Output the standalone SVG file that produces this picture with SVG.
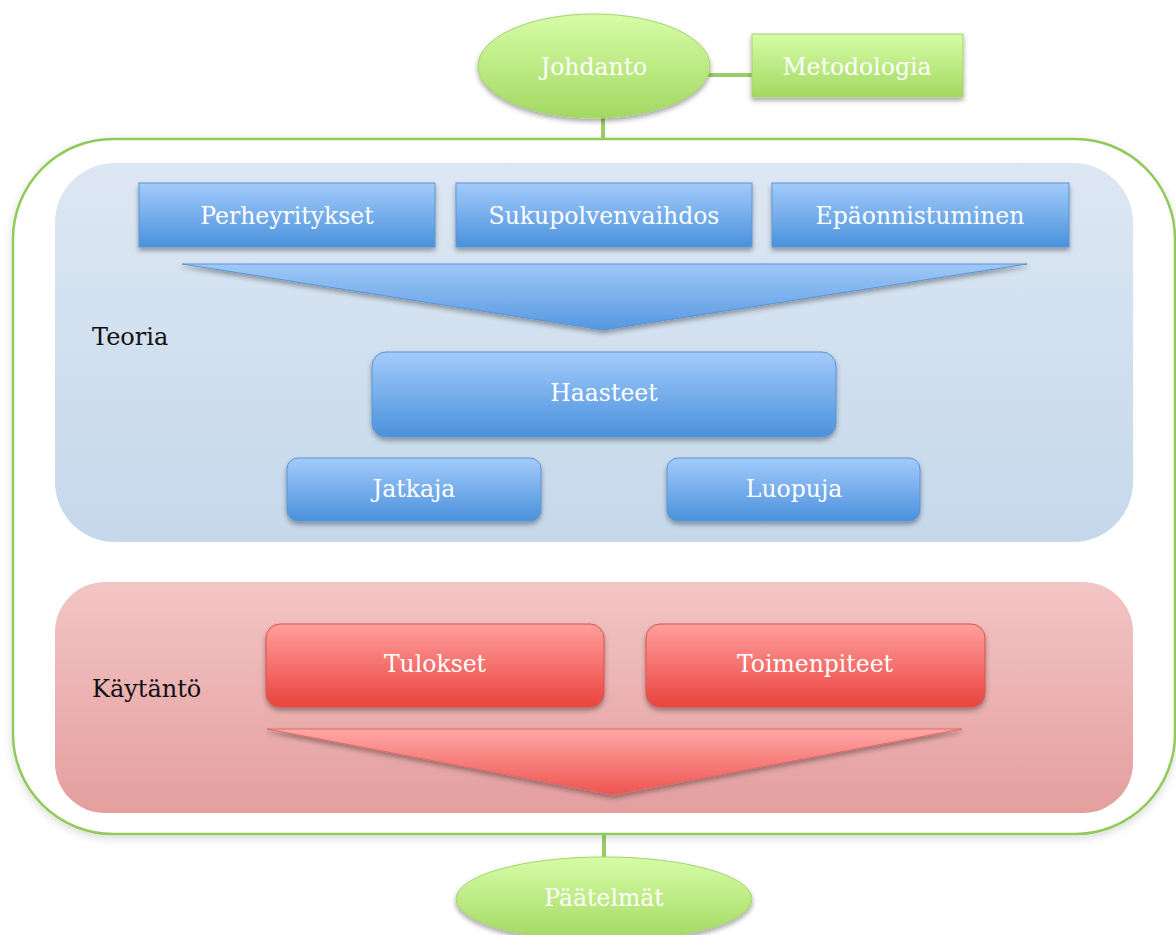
<svg xmlns="http://www.w3.org/2000/svg" width="1176" height="935" viewBox="0 0 1176 935">
<defs>
<linearGradient id="gGreen" x1="0" y1="0" x2="0" y2="1"><stop offset="0" stop-color="#d6fda6"/><stop offset="1" stop-color="#a3d862"/></linearGradient>
<linearGradient id="gBlue" x1="0" y1="0" x2="0" y2="1"><stop offset="0" stop-color="#a3cbfb"/><stop offset="1" stop-color="#4a91dc"/></linearGradient>
<linearGradient id="gBlueTri" x1="0" y1="0" x2="0" y2="1"><stop offset="0" stop-color="#a0c8f8"/><stop offset="1" stop-color="#5598e0"/></linearGradient>
<linearGradient id="gRed" x1="0" y1="0" x2="0" y2="1"><stop offset="0" stop-color="#ff9f9d"/><stop offset="1" stop-color="#ea433e"/></linearGradient>
<linearGradient id="gRedTri" x1="0" y1="0" x2="0" y2="1"><stop offset="0" stop-color="#ffa8a6"/><stop offset="1" stop-color="#ef5450"/></linearGradient>
<linearGradient id="gPanelBlue" x1="0" y1="0" x2="0" y2="1"><stop offset="0" stop-color="#dde7f3"/><stop offset="1" stop-color="#c5d8eb"/></linearGradient>
<linearGradient id="gPanelRed" x1="0" y1="0" x2="0" y2="1"><stop offset="0" stop-color="#f3c5c5"/><stop offset="1" stop-color="#e49e9e"/></linearGradient>
<filter id="sh" x="-10%" y="-20%" width="120%" height="150%"><feDropShadow dx="0" dy="3" stdDeviation="2.5" flood-color="#000" flood-opacity="0.35"/></filter>
<filter id="shSoft" x="-5%" y="-5%" width="110%" height="115%"><feDropShadow dx="0" dy="3" stdDeviation="4" flood-color="#000" flood-opacity="0.15"/></filter>
</defs>
<style>
.lbl{font-family:"DejaVu Serif","Liberation Serif",serif;font-size:23.5px;fill:#ffffff;text-anchor:middle;dominant-baseline:central}
.side{font-family:"DejaVu Serif","Liberation Serif",serif;font-size:24px;fill:#111111;dominant-baseline:central}
.conn{stroke:#9ccc65;stroke-width:4;fill:none}
.blue{fill:url(#gBlue);stroke:#5a95d6;stroke-width:1}
.red{fill:url(#gRed);stroke:#d9534f;stroke-width:1}
.green{fill:url(#gGreen);stroke:#a6d46c;stroke-width:1}
</style>

<g id="connectors">
<line class="conn" x1="603" y1="118" x2="603" y2="140"/>
<line class="conn" x1="708" y1="75" x2="752" y2="75"/>
<line class="conn" x1="604" y1="834" x2="604" y2="858"/>
</g>

<g id="frame">
<rect x="13" y="139" width="1162" height="695" rx="100" ry="100" fill="#ffffff" stroke="#91c95a" stroke-width="2.5" filter="url(#shSoft)"/>
</g>

<g id="teoria-panel">
<rect x="55" y="163" width="1078" height="379" rx="60" ry="60" fill="url(#gPanelBlue)"/>
<text class="side" x="92" y="337">Teoria</text>
</g>

<g id="kaytanto-panel">
<rect x="55" y="582" width="1078" height="231" rx="50" ry="50" fill="url(#gPanelRed)"/>
<text class="side" x="92" y="689">Käytäntö</text>
</g>

<g id="johdanto">
<ellipse class="green" cx="594" cy="66" rx="116" ry="52" filter="url(#sh)"/>
<text class="lbl" x="594" y="67">Johdanto</text>
</g>

<g id="metodologia">
<rect class="green" x="752" y="34" width="211" height="63" filter="url(#sh)"/>
<text class="lbl" x="857" y="67">Metodologia</text>
</g>

<g id="perheyritykset">
<rect class="blue" x="139" y="183" width="296" height="64" filter="url(#sh)"/>
<text class="lbl" x="287" y="216">Perheyritykset</text>
</g>

<g id="sukupolvenvaihdos">
<rect class="blue" x="456" y="183" width="296" height="64" filter="url(#sh)"/>
<text class="lbl" x="604" y="216">Sukupolvenvaihdos</text>
</g>

<g id="epaonnistuminen">
<rect class="blue" x="772" y="183" width="297" height="64" filter="url(#sh)"/>
<text class="lbl" x="920" y="216">Epäonnistuminen</text>
</g>

<g id="teoria-arrow">
<polygon points="182,264 1027,264 603,330" fill="url(#gBlueTri)" stroke="#5a95d6" stroke-width="1" filter="url(#sh)"/>
</g>

<g id="haasteet">
<rect class="blue" x="372" y="352" width="464" height="85" rx="14" ry="14" filter="url(#sh)"/>
<text class="lbl" x="604" y="393">Haasteet</text>
</g>

<g id="jatkaja">
<rect class="blue" x="287" y="458" width="254" height="63" rx="11" ry="11" filter="url(#sh)"/>
<text class="lbl" x="414" y="489">Jatkaja</text>
</g>

<g id="luopuja">
<rect class="blue" x="667" y="458" width="253" height="63" rx="11" ry="11" filter="url(#sh)"/>
<text class="lbl" x="794" y="489">Luopuja</text>
</g>

<g id="tulokset">
<rect class="red" x="266" y="624" width="338" height="83" rx="14" ry="14" filter="url(#sh)"/>
<text class="lbl" x="435" y="664">Tulokset</text>
</g>

<g id="toimenpiteet">
<rect class="red" x="646" y="624" width="339" height="83" rx="14" ry="14" filter="url(#sh)"/>
<text class="lbl" x="815" y="664">Toimenpiteet</text>
</g>

<g id="kaytanto-arrow">
<polygon points="267,729 962,729 613,795" fill="url(#gRedTri)" stroke="#de6a66" stroke-width="1" filter="url(#sh)"/>
</g>

<g id="paatelmat">
<ellipse class="green" cx="604" cy="899" rx="148" ry="42" filter="url(#sh)"/>
<text class="lbl" x="604" y="898">Päätelmät</text>
</g>
</svg>
